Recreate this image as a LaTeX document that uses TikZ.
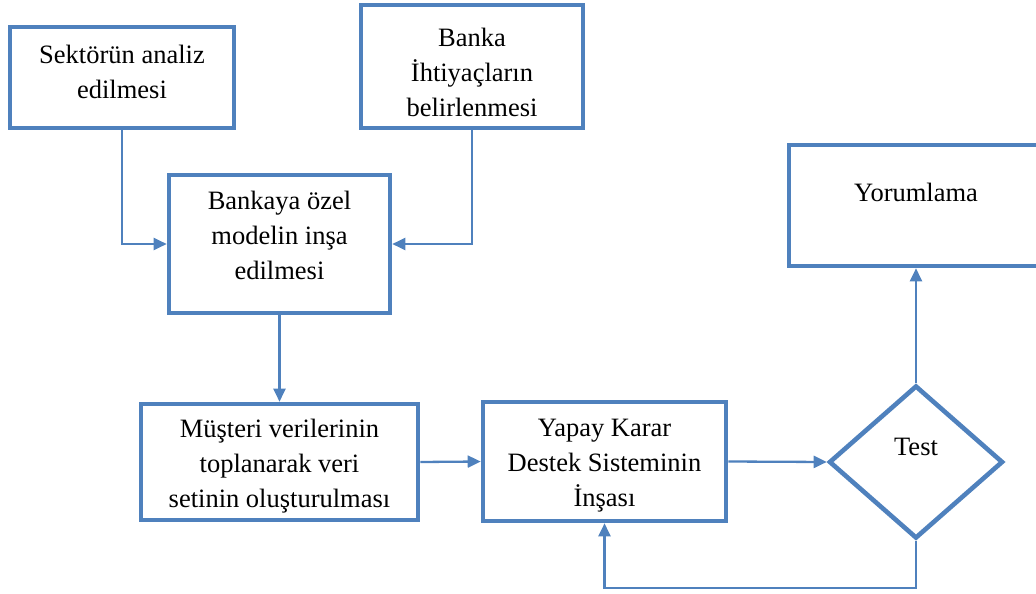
\documentclass[tikz,border=0pt]{standalone}
\usepackage{fontspec}
\setmainfont{Liberation Serif}
\newfontfamily\tnr{Liberation Serif}
\usetikzlibrary{arrows.meta,shapes.geometric}
\definecolor{flowblue}{RGB}{79,129,189}
\tikzset{
  box/.style={draw=flowblue, line width=4.6pt, rectangle, inner sep=0pt, fill=white},
  decision/.style={draw=flowblue, line width=4.6pt, diamond, inner sep=0pt, fill=white},
  txt/.style={anchor=north, inner sep=0pt, align=center, font=\tnr\fontsize{26.5}{35}\selectfont, text=black},
  conn/.style={draw=flowblue, line width=2.3pt, -{Triangle[length=13pt,width=12pt]}}
}
\begin{document}
\begin{tikzpicture}[x=1pt,y=-1pt]
\useasboundingbox (0,0) rectangle (1036,594);
\node[box, minimum width=224pt, minimum height=101pt] (b1) at (122,77.5) {};
\node[box, minimum width=222pt, minimum height=123pt] (b2) at (472,66.5) {};
\node[box, minimum width=221pt, minimum height=138pt] (b3) at (279.5,244) {};
\node[box, minimum width=277pt, minimum height=116pt] (b4) at (279.5,462) {};
\node[box, minimum width=243pt, minimum height=119pt] (b5) at (604.5,461.5) {};
\node[box, minimum width=254pt, minimum height=121pt] (b6) at (916,205.5) {};
\node[decision, minimum width=174pt, minimum height=153pt, aspect=1.137] (d) at (916,462) {};
\node[txt] (t1) at (122,45) {Sektörün analiz\\edilmesi};
\node[txt] (t2) at (472,28) {Banka\\İhtiyaçların\\belirlenmesi};
\node[txt] (t3) at (279.5,191) {Bankaya özel\\modelin inşa\\edilmesi};
\node[txt] (t4) at (279.5,419) {Müşteri verilerinin\\toplanarak veri\\setinin oluşturulması};
\node[txt] (t5) at (604.5,419) {Yapay Karar\\Destek Sisteminin\\İnşası};
\node[txt] (t6) at (916,183) {Yorumlama};
\node[txt] (t7) at (916,438) {Test};
\draw[conn] (b1.south) |- (b3.west);
\draw[conn] (b2.south) |- (b3.east);
\draw[conn] (b3.south) -- (b4.north);
\draw[conn] (b4.east) -- (b5.west);
\draw[conn] (b5.east) -- (d.west);
\draw[conn] (d.north) -- (b6.south);
\draw[conn] (d.south) -- ++(0,47) -| (b5.south);
\end{tikzpicture}
\end{document}
